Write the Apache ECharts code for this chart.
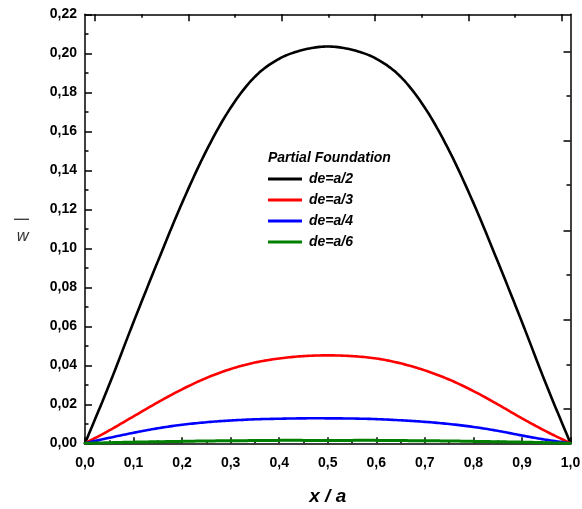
<!DOCTYPE html>
<html>
<head>
<meta charset="utf-8">
<script src="https://cdn.jsdelivr.net/npm/echarts@6/dist/echarts.min.js"></script>
<style>
  html, body { margin: 0; padding: 0; background: #fff; }
  #chart { width: 582px; height: 509px; }
</style>
</head>
<body>
<div id="chart"></div>
<script>
// Dimensionless deflection along the plate, x / a
var xValues = [0, 0.05, 0.1, 0.15, 0.2, 0.25, 0.3, 0.35, 0.4, 0.45, 0.5,
               0.55, 0.6, 0.65, 0.7, 0.75, 0.8, 0.85, 0.9, 0.95, 1.0];

var seriesNames = ['de=a/2', 'de=a/3', 'de=a/4', 'de=a/6'];
var seriesColors = ['#000000', '#ff0000', '#0000ff', '#008000'];

var wHalf = [0, 0.0301, 0.0622, 0.0933, 0.1233, 0.1501, 0.1721, 0.1880, 0.1972, 0.2018, 0.2035,
             0.2018, 0.1972, 0.1880, 0.1721, 0.1501, 0.1233, 0.0933, 0.0622, 0.0301, 0];
var wThird = [0, 0.0066, 0.0138, 0.021, 0.0277, 0.0335, 0.0381, 0.0414, 0.0435, 0.0447, 0.0451,
              0.0447, 0.0435, 0.041, 0.0374, 0.0327, 0.0268, 0.0200, 0.0128, 0.0061, 0];
var wQuarter = [0, 0.0028, 0.0054, 0.0077, 0.0095, 0.0108, 0.0117, 0.0123, 0.0126, 0.0128, 0.0128,
                0.0127, 0.0124, 0.0118, 0.0110, 0.0099, 0.0084, 0.0064, 0.0040, 0.0018, 0];
var wSixth = [0, 0.0003, 0.0006, 0.0008, 0.0010, 0.0012, 0.0013, 0.0014, 0.0015, 0.0015, 0.0015,
              0.0015, 0.0015, 0.0014, 0.0013, 0.0012, 0.0010, 0.0008, 0.0006, 0.0003, 0];

// Tick values of the mirrored top and right frame axes
var topMajorTicks = [0.0206, 0.2128, 0.4050, 0.5972, 0.7894, 0.9816];
var topMinorTicks = [0.1167, 0.3089, 0.5011, 0.6933, 0.8855];
var rightMajorTicks = [0.0176, 0.0634, 0.1092, 0.1550, 0.2010];
var rightMinorTicks = [0.0405, 0.0865, 0.1327, 0.1781];

var allSeries = [wHalf, wThird, wQuarter, wSixth];

function pairs(ys) {
  return xValues.map(function (x, i) { return [x, ys[i]]; });
}

var FONT = '"Liberation Sans", Arial, sans-serif';
var axisLineStyle = { color: '#000', width: 1.5 };

// Tick-only axes that close the frame on the top and right sides
function frameAxis(type, position, ticks, len, showLine) {
  return {
    type: 'value',
    position: position,
    min: 0,
    max: type === 'x' ? 1 : 0.22,
    axisLine: { show: showLine, onZero: false, lineStyle: axisLineStyle },
    axisTick: {
      show: true, inside: true, length: len,
      customValues: ticks,
      lineStyle: { color: '#000', width: 1.5 }
    },
    axisLabel: { show: false },
    splitLine: { show: false }
  };
}

// Catmull-Rom spline through pixel points, flattened to a dense polyline
function splinePoints(pts) {
  var out = [pts[0]];
  var steps = 12;
  for (var i = 0; i < pts.length - 1; i++) {
    var p0 = pts[i - 1] || pts[i];
    var p1 = pts[i];
    var p2 = pts[i + 1];
    var p3 = pts[i + 2] || pts[i + 1];
    var c1 = [p1[0] + (p2[0] - p0[0]) / 6, p1[1] + (p2[1] - p0[1]) / 6];
    var c2 = [p2[0] - (p3[0] - p1[0]) / 6, p2[1] - (p3[1] - p1[1]) / 6];
    for (var s = 1; s <= steps; s++) {
      var t = s / steps, u = 1 - t;
      var a = u * u * u, b = 3 * u * u * t, c = 3 * u * t * t, d = t * t * t;
      out.push([
        a * p1[0] + b * c1[0] + c * c2[0] + d * p2[0],
        a * p1[1] + b * c1[1] + c * c2[1] + d * p2[1]
      ]);
    }
  }
  return out;
}

function curveSeries(name, ys, color, width) {
  var pts = pairs(ys);
  return {
    name: name,
    type: 'custom',
    coordinateSystem: 'cartesian2d',
    xAxisIndex: 0,
    yAxisIndex: 0,
    data: pts,
    encode: { x: 0, y: 1 },
    itemStyle: { color: color },
    silent: true,
    renderItem: function (params, api) {
      if (params.dataIndex !== 0) return null;
      var pixels = pts.map(function (p) { return api.coord(p); });
      return {
        type: 'polyline',
        shape: { points: splinePoints(pixels) },
        style: { fill: null, stroke: color, lineWidth: width, lineJoin: 'round', lineCap: 'round' }
      };
    }
  };
}

var chart = echarts.init(document.getElementById('chart'), null, { renderer: 'canvas' });

chart.setOption({
  backgroundColor: '#fff',
  animation: false,
  title: {
    text: 'Partial Foundation',
    left: 268,
    top: 151,
    padding: 0,
    textStyle: { fontFamily: FONT, fontSize: 14, fontWeight: 'bold', fontStyle: 'italic', color: '#000' }
  },
  legend: {
    orient: 'vertical',
    left: 268,
    top: 172,
    padding: 0,
    itemWidth: 34,
    itemHeight: 14,
    itemGap: 7,
    data: seriesNames.map(function (n, i) {
      return { name: n, icon: 'path://M0,0 L34,0 L34,3 L0,3 Z', itemStyle: { color: seriesColors[i], borderWidth: 0 } };
    }),
    textStyle: { fontFamily: FONT, fontSize: 14, fontWeight: 'bold', fontStyle: 'italic', color: '#000', padding: [0, 0, 0, 2] }
  },
  grid: { left: 85, right: 11.5, top: 14.3, bottom: 65.7, containLabel: false, outerBoundsMode: 'none' },
  xAxis: [
    {
      type: 'value',
      position: 'bottom',
      min: 0, max: 1, interval: 0.1,
      name: 'x / a',
      nameLocation: 'middle',
      nameGap: 44,
      nameTextStyle: { fontFamily: FONT, fontSize: 19, fontWeight: 'bold', fontStyle: 'italic', color: '#000' },
      axisLine: { show: true, onZero: false, lineStyle: axisLineStyle },
      axisTick: { show: true, inside: true, length: 6, lineStyle: { color: '#000', width: 1.5 } },
      minorTick: { show: true, splitNumber: 2, length: 3, lineStyle: { color: '#000', width: 1.5 } },
      axisLabel: {
        margin: 13,
        fontFamily: FONT, fontSize: 14, fontWeight: 'bold', color: '#000',
        formatter: function (v) { return v.toFixed(1).replace('.', ','); }
      },
      splitLine: { show: false }
    },
    frameAxis('x', 'top', topMajorTicks, 7, true),
    frameAxis('x', 'top', topMinorTicks, 3.5, false)
  ],
  yAxis: [
    {
      type: 'value',
      position: 'left',
      min: 0, max: 0.22, interval: 0.02,
      name: '{bar|}\n{w|w}',
      nameLocation: 'middle',
      nameRotate: 0,
      nameGap: 56,
      nameTextStyle: {
        padding: [14, 0, 0, 0],
        rich: {
          bar: { width: 15, height: 1.3, backgroundColor: '#333' },
          w: { fontFamily: '"Open Sans", sans-serif', fontSize: 17, color: '#333', lineHeight: 33, fontStyle: 'italic' }
        }
      },
      axisLine: { show: true, onZero: false, lineStyle: axisLineStyle },
      axisTick: { show: true, inside: true, length: 7, lineStyle: { color: '#000', width: 1.5 } },
      minorTick: { show: true, splitNumber: 2, length: 3.5, lineStyle: { color: '#000', width: 1.5 } },
      axisLabel: {
        margin: 8,
        fontFamily: FONT, fontSize: 14, fontWeight: 'bold', color: '#000',
        formatter: function (v) { return v.toFixed(2).replace('.', ','); }
      },
      splitLine: { show: false }
    },
    frameAxis('y', 'right', rightMajorTicks, 7, true),
    frameAxis('y', 'right', rightMinorTicks, 4, false)
  ],
  series: seriesNames.map(function (n, i) {
    return curveSeries(n, allSeries[i], seriesColors[i], i === 3 ? 3 : 2.6);
  })
});
</script>
</body>
</html>
